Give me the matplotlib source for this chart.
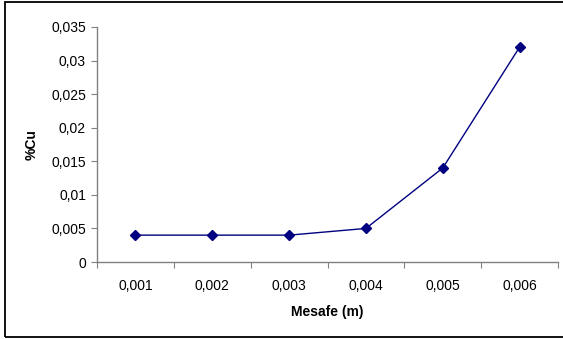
import matplotlib
matplotlib.use("Agg")
import matplotlib.pyplot as plt
from matplotlib.patches import Rectangle
from matplotlib.ticker import FuncFormatter, FixedLocator

# ---------- Data ----------
categories = ["0,001", "0,002", "0,003", "0,004", "0,005", "0,006"]
cu_values = [0.004, 0.004, 0.004, 0.005, 0.014, 0.032]
y_ticks = [0, 0.005, 0.01, 0.015, 0.02, 0.025, 0.03, 0.035]
# --------------------------

plt.rcParams["font.family"] = ["Liberation Sans", "DejaVu Sans"]

fig = plt.figure(figsize=(5.63, 3.39), dpi=100)
ax = fig.add_axes([97 / 563, 1 - 262 / 339, (558 - 97) / 563, (262 - 27) / 339])

# outer chart border (Excel style)
fig.patches.append(Rectangle((5 / 563, 2 / 339), 1.2, 335 / 339, transform=fig.transFigure,
                             fill=False, edgecolor="black", linewidth=1.3))

x = list(range(len(categories)))
ax.plot(x, cu_values, color="#000080", linewidth=1, marker="D", markersize=5,
        markerfacecolor="#000080", markeredgecolor="#000080")

ax.set_xlim(-0.5, len(categories) - 0.5)
ax.set_ylim(0, 0.035)

# category axis: ticks between categories, labels at centers
ax.xaxis.set_major_locator(FixedLocator([i - 0.5 for i in range(len(categories) + 1)]))
ax.xaxis.set_major_formatter(FuncFormatter(lambda v, p: ""))
ax.xaxis.set_minor_locator(FixedLocator(x))
ax.set_xticklabels(categories, minor=True)
ax.tick_params(axis="x", which="minor", length=0, pad=12, labelsize=10)
ax.tick_params(axis="x", which="major", length=4, direction="out", color="#808080")

ax.set_yticks(y_ticks)
ax.yaxis.set_major_formatter(FuncFormatter(lambda v, p: ("%g" % round(v, 3)).replace(".", ",")))
ax.tick_params(axis="y", length=4, direction="out", color="#808080", labelsize=10, pad=4)

for s in ["top", "right"]:
    ax.spines[s].set_visible(False)
for s in ["left", "bottom"]:
    ax.spines[s].set_color("#808080")
    ax.spines[s].set_linewidth(1)

ax.set_xlabel("Mesafe (m)", fontsize=10, fontweight="bold", labelpad=9)
ax.set_ylabel("%Cu", fontsize=10, fontweight="bold", labelpad=9)

fig.savefig("out.png", dpi=100)
